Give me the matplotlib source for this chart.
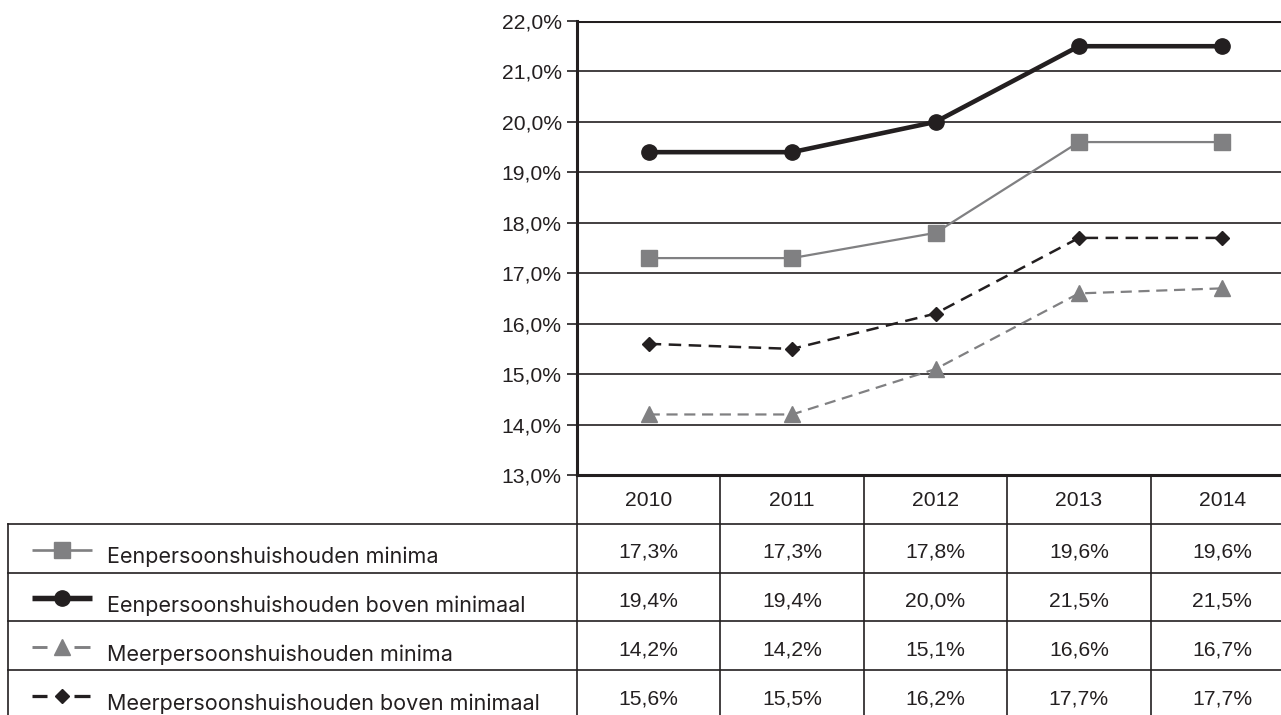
import matplotlib.pyplot as plt

plt.rcParams["font.family"] = ["Liberation Sans", "DejaVu Sans"]

YEARS = ["2010", "2011", "2012", "2013", "2014"]
SERIES_NAMES = [
    "Eenpersoonshuishouden minima",
    "Eenpersoonshuishouden boven minimaal",
    "Meerpersoonshuishouden minima",
    "Meerpersoonshuishouden boven minimaal",
]
een_minima = [17.3, 17.3, 17.8, 19.6, 19.6]
een_boven = [19.4, 19.4, 20.0, 21.5, 21.5]
meer_minima = [14.2, 14.2, 15.1, 16.6, 16.7]
meer_boven = [15.6, 15.5, 16.2, 17.7, 17.7]
Y_TICKS = [13, 14, 15, 16, 17, 18, 19, 20, 21, 22]

DARK = "#231f20"
GREY = "#808082"
STYLES = [
    dict(color=GREY, lw=1.6, dashed=False, marker="s", ms=11.5),
    dict(color=DARK, lw=3.3, dashed=False, marker="o", ms=11),
    dict(color=GREY, lw=1.6, dashed=True, marker="^", ms=11),
    dict(color=DARK, lw=1.8, dashed=True, marker="D", ms=7.5),
]

W, H = 1281, 715
fig = plt.figure(figsize=(W / 100, H / 100), dpi=100)

# axes geometry in pixels (right edge is cut off in the reference)
x0, x1 = 577, 1294
y_top, y_bot = 21, 475
ax = fig.add_axes([x0 / W, 1 - y_bot / H, (x1 - x0) / W, (y_bot - y_top) / H])

xs = range(len(YEARS))
all_series = [een_minima, een_boven, meer_minima, meer_boven]
for vals, st in zip(all_series, STYLES):
    ls = (0, (5, 3)) if st["dashed"] else "-"
    ax.plot(xs, vals, color=st["color"], lw=st["lw"], ls=ls,
            marker=st["marker"], ms=st["ms"], mec=st["color"], mfc=st["color"],
            zorder=3)

ax.set_xlim(-0.5, len(YEARS) - 0.5)
ax.set_ylim(13, 22)
ax.set_yticks(Y_TICKS)
ax.set_yticklabels([f"{v:.1f}%".replace(".", ",") for v in Y_TICKS], fontsize=15.2, color=DARK)
ax.set_xticks([])
ax.tick_params(axis="y", length=7, width=1.2, color=DARK, pad=4)
for y in Y_TICKS[1:]:
    ax.axhline(y, color=DARK, lw=1.2, zorder=1)
ax.axhline(22, color=DARK, lw=2.2, zorder=2)
for side in ["top", "right"]:
    ax.spines[side].set_visible(False)
for side in ["left", "bottom"]:
    ax.spines[side].set_linewidth(2.2)
    ax.spines[side].set_color(DARK)

# data table below the chart, in the same column units as the chart
row_h = 48.8
tab = fig.add_axes([x0 / W, 0, (x1 - x0) / W, (H - y_bot) / H])
tab.set_xlim(-0.5, len(YEARS) - 0.5)
tab.set_ylim((H - y_bot) / row_h, 0)
tab.axis("off")

col_px = (x1 - x0) / len(YEARS)


def px_to_col(px):
    return -0.5 - (x0 - px) / col_px


left_edge = px_to_col(8)
text_x = px_to_col(107)
n_rows = len(SERIES_NAMES)

lkw = dict(color=DARK, lw=1.2, clip_on=False)
for i in range(len(YEARS) + 1):
    tab.plot([i - 0.5, i - 0.5], [0, n_rows + 1], **lkw)
for r in range(1, n_rows + 1):
    tab.plot([left_edge, len(YEARS) - 0.5], [r, r], **lkw)
tab.plot([left_edge, left_edge], [1, n_rows + 1], **lkw)

for i, yr in enumerate(YEARS):
    tab.text(i, 0.635, yr, ha="center", va="baseline", fontsize=15.2, color=DARK)

for r, (name, vals, st) in enumerate(zip(SERIES_NAMES, all_series, STYLES)):
    yc = r + 1.5
    hy = yc + 0.03
    mid = px_to_col(61.5)
    if st["dashed"]:
        for a, b in [(32, 47), (74, 90)]:
            tab.plot([px_to_col(a), px_to_col(b)], [hy, hy], color=st["color"],
                     lw=st["lw"] * 1.3, solid_capstyle="butt", clip_on=False)
    else:
        tab.plot([px_to_col(32), px_to_col(92)], [hy, hy], color=st["color"],
                 lw=st["lw"] * 1.2, solid_capstyle="butt", clip_on=False)
    tab.plot([mid], [hy], ls="none", marker=st["marker"], ms=st["ms"],
             mec=st["color"], mfc=st["color"], clip_on=False)
    tab.text(text_x, yc + 0.31, name, ha="left", va="baseline", fontsize=15.5,
             color=DARK, family=["Inter", "DejaVu Sans"])
    for i, v in enumerate(vals):
        tab.text(i, yc + 0.2, f"{v:.1f}%".replace(".", ","), ha="center",
                 va="baseline", fontsize=15.2, color=DARK)

fig.savefig("out.png", dpi=100)
